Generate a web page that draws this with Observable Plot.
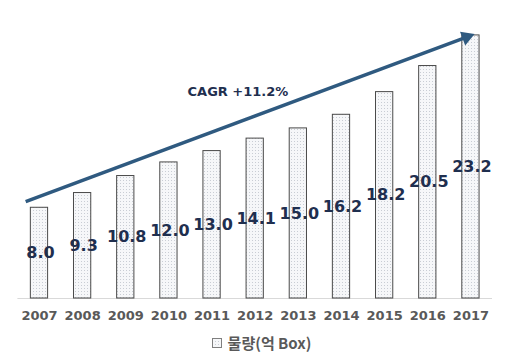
<!DOCTYPE html>
<html><head><meta charset="utf-8">
<script src="https://cdn.jsdelivr.net/npm/d3@7"></script>
<script src="https://cdn.jsdelivr.net/npm/@observablehq/plot@0.6"></script>
<style>
body{margin:0;background:#fff;}
#chart{width:515px;}
.legend{display:flex;justify-content:center;align-items:center;gap:6px;margin-top:2px;margin-left:8px;font:bold 15px "Noto Sans CJK KR","DejaVu Sans",sans-serif;color:#595959;}
.legend svg{display:block;}
</style></head>
<body>
<div id="chart"></div>
<script>
const years = [2007,2008,2009,2010,2011,2012,2013,2014,2015,2016,2017];
const volumes = [8.0,9.3,10.8,12.0,13.0,14.1,15.0,16.2,18.2,20.5,23.2];
const legendLabel = "물량(억 Box)";
const cagrLabel = "CAGR +11.2%";
// trend arrow endpoints (data units)
const trendStart = {year: 2006.68, value: 8.55};
const trendEnd = {year: 2016.9, value: 23.05};
const cagrPos = {year: 2011.6, value: 18.2};

const data = years.map((y,i)=>({year:y, value:volumes[i]}));

const plot = Plot.plot({
  width: 515, height: 330,
  marginLeft: 17.4, marginRight: 23, marginTop: 14.5, marginBottom: 32,
  x: {domain:[2006.5, 2017.5], ticks: years, tickFormat: d=>String(d), tickSize:0, tickPadding:12, label:null},
  y: {domain:[0,25], axis:null},
  style: {fontFamily:"DejaVu Sans, sans-serif", background:"#fff"},
  marks: [
    Plot.ruleY([0], {stroke:"#d9d9d9", strokeWidth:1}),
    Plot.rectY(data, {x1: d=>d.year-0.2, x2: d=>d.year+0.2, y: "value", fill:"url(#dots)", stroke:"#4a4a4a", strokeWidth:1}),
    Plot.text(data, {x:"year", y: d=>d.value/2, text: d=>d.value.toFixed(1), fill:"#1f2f4f", fontSize:16, fontWeight:"bold", dx:1}),
    Plot.link([{}], {x1:()=>trendStart.year, y1:()=>trendStart.value, x2:()=>trendEnd.year, y2:()=>trendEnd.value, stroke:"#2f5a80", strokeWidth:3.5}),
    Plot.dot([trendEnd], {x:"year", y:"value", symbol:"triangle", r:5.5, fill:"#2f5a80", rotate:69.5}),
    Plot.text([cagrPos], {x:"year", y:"value", text:()=>cagrLabel, fill:"#1f2f4f", fontSize:13, fontWeight:"bold"})
  ]
});

const defs = `<defs><pattern id="dots" width="3" height="3" patternUnits="userSpaceOnUse"><rect width="3" height="3" fill="#f6f7f9"/><rect width="1" height="1" fill="#c9cdd4"/></pattern></defs>`;
plot.insertAdjacentHTML("afterbegin", defs);
plot.querySelectorAll('g[aria-label="x-axis tick label"]').forEach(g=>{g.setAttribute("font-weight","bold");g.setAttribute("font-size","13");g.setAttribute("fill","#595959");});
document.getElementById("chart").appendChild(plot);

const leg = document.createElement("div");
leg.className = "legend";
leg.innerHTML = `<svg width="10" height="10"><defs><pattern id="dots2" width="3" height="3" patternUnits="userSpaceOnUse"><rect width="3" height="3" fill="#f6f7f9"/><rect width="1" height="1" fill="#c9cdd4"/></pattern></defs><rect x="0.5" y="0.5" width="9" height="9" fill="url(#dots2)" stroke="#7f7f7f"/></svg><span>${legendLabel}</span>`;
document.getElementById("chart").appendChild(leg);
</script>
</body></html>
